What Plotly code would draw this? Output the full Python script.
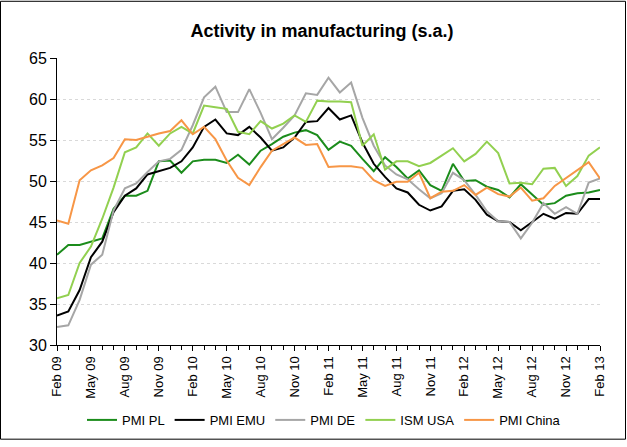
import plotly.graph_objects as go

months = ["Feb", "Mar", "Apr", "May", "Jun", "Jul", "Aug", "Sep", "Oct", "Nov", "Dec", "Jan"]
labels = []
for y in range(9, 14):
    for m in months:
        yr = y if m != "Jan" else y + 1
        labels.append(f"{m} {yr:02d}")
labels = labels[:49]

pmi_pl = [41.0, 42.2, 42.2, 42.6, 43.0, 46.6, 48.2, 48.2, 48.8, 52.4, 52.5, 51.0,
          52.4, 52.6, 52.6, 52.2, 53.2, 52.0, 53.7, 54.5, 55.4, 55.9, 56.2, 55.6,
          53.8, 54.8, 54.3, 52.7, 51.2, 52.9, 51.7, 50.3, 51.3, 49.5, 48.8, 52.1,
          50.0, 50.1, 49.3, 48.9, 48.0, 49.6, 48.3, 47.1, 47.3, 48.2, 48.5, 48.6, 48.9]
pmi_emu = [33.6, 34.1, 36.7, 40.7, 42.6, 46.2, 48.2, 49.1, 50.8, 51.2, 51.6, 52.4,
           54.1, 56.6, 57.5, 55.8, 55.6, 56.6, 55.3, 53.7, 54.1, 55.3, 57.2, 57.3,
           58.9, 57.5, 58.0, 54.7, 52.1, 50.5, 49.1, 48.6, 47.1, 46.4, 46.9, 48.8,
           49.0, 47.7, 45.9, 45.1, 45.0, 44.0, 45.0, 46.0, 45.4, 46.1, 46.0, 47.8, 47.8]
pmi_de = [32.2, 32.4, 35.5, 39.8, 41.0, 46.4, 49.1, 49.7, 51.1, 52.4, 52.7, 53.8,
          56.8, 60.2, 61.5, 58.4, 58.4, 61.2, 58.3, 55.1, 56.5, 58.0, 60.7, 60.5,
          62.6, 60.8, 62.0, 57.7, 54.3, 51.9, 50.8, 50.2, 49.0, 47.9, 48.5, 51.0,
          50.1, 48.3, 46.3, 45.1, 45.0, 43.0, 44.9, 47.3, 46.0, 46.8, 46.0, 49.8, 50.3]
ism_usa = [35.7, 36.1, 40.0, 42.0, 45.4, 49.2, 53.5, 54.1, 55.8, 54.3, 55.8, 56.6,
           55.8, 59.2, 59.0, 58.8, 56.0, 55.7, 57.3, 56.4, 57.0, 58.0, 57.2, 59.8,
           59.7, 59.7, 59.6, 54.3, 55.7, 51.4, 52.4, 52.4, 51.8, 52.2, 53.1, 54.0,
           52.4, 53.3, 54.8, 53.4, 49.7, 49.8, 49.6, 51.5, 51.6, 49.4, 50.6, 53.1, 54.1]
pmi_china = [45.2, 44.8, 50.1, 51.3, 51.9, 52.8, 55.1, 55.0, 55.4, 55.8, 56.1, 57.4,
             55.7, 56.6, 55.1, 52.5, 50.4, 49.5, 51.7, 53.7, 54.5, 55.3, 54.4, 54.5,
             51.7, 51.8, 51.8, 51.6, 50.1, 49.4, 49.9, 49.9, 51.0, 47.9, 48.7, 48.8,
             49.5, 48.3, 49.2, 48.4, 48.1, 49.2, 47.6, 47.9, 49.4, 50.4, 51.4, 52.3, 50.3]

series = [
    ("PMI PL", pmi_pl, "#1b8c1b"),
    ("PMI EMU", pmi_emu, "#000000"),
    ("PMI DE", pmi_de, "#a6a6a6"),
    ("ISM USA", ism_usa, "#92d050"),
    ("PMI China", pmi_china, "#f79646"),
]

x = list(range(len(labels)))
fig = go.Figure()
for name, vals, col in series:
    fig.add_trace(go.Scatter(x=x, y=vals, mode="lines", name=name,
                             line=dict(color=col, width=2)))

W, H = 627, 447
ml, mr, mt, mb = 57, 27, 58, 98
pw, ph = W - ml - mr, H - mt - mb

fig.update_layout(
    width=W, height=H,
    margin=dict(l=ml, r=mr, t=mt, b=mb),
    paper_bgcolor="white", plot_bgcolor="white",
    font=dict(family="Liberation Sans, Arial, sans-serif", color="#000000", size=13),
    title=dict(text="<b>Activity in manufacturing (s.a.)</b>", x=322 / W, xanchor="center",
               y=1 - 31 / H, yanchor="middle", font=dict(size=18)),
    showlegend=True,
    legend=dict(orientation="h", x=(324 - ml) / pw, xanchor="center",
                y=-(425 - (H - mb)) / ph, yanchor="middle", font=dict(size=13),
                traceorder="normal", bgcolor="rgba(0,0,0,0)"),
    xaxis=dict(range=[0, 48], tickmode="array", tickvals=x[::3], ticktext=labels[::3],
               tickangle=-90, ticks="outside", ticklen=5, tickcolor="black",
               showline=True, linecolor="black", linewidth=1, showgrid=False,
               zeroline=False, tickfont=dict(size=13),
               minor=dict(tickvals=x, ticks="outside", ticklen=4, tickcolor="black")),
    yaxis=dict(range=[30, 65], tickvals=[30, 35, 40, 45, 50, 55, 60, 65],
               ticks="outside", ticklen=6, tickcolor="black",
               showline=True, linecolor="black", linewidth=1,
               showgrid=True, gridcolor="#d9d9d9", griddash="dot", gridwidth=1,
               zeroline=False, tickfont=dict(size=16)),
    shapes=[dict(type="rect", xref="paper", yref="paper",
                 x0=-(ml - 0.5) / pw, x1=1 + (mr - 1.5) / pw,
                 y0=-(mb - 2.5) / ph, y1=1 + (mt - 0.5) / ph,
                 line=dict(color="black", width=1), layer="above")],
)

fig.write_html("out.html", config={"displayModeBar": False},
               post_script="document.body.style.margin='0px';document.body.style.padding='0px';document.body.style.overflow='hidden';")
